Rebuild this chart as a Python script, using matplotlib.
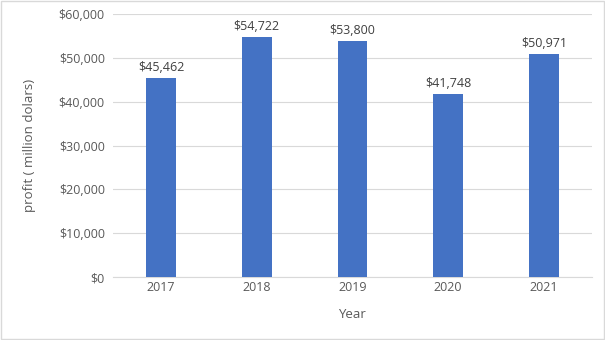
import matplotlib.pyplot as plt
from matplotlib.ticker import FuncFormatter

years = ['2017', '2018', '2019', '2020', '2021']
profit = [45462, 54722, 53800, 41748, 50971]

plt.rcParams['font.family'] = ['Open Sans', 'DejaVu Sans']
text_col = '#595959'

fig = plt.figure(figsize=(6.05, 3.4), dpi=100)
ax = fig.add_axes([0.187, 0.185, 0.791, 0.774])

x = range(len(years))
ax.bar(x, profit, width=0.31, color='#4472C4', zorder=3)

for xi, v in zip(x, profit):
    ax.text(xi, v + 900, f'${v:,}', ha='center', va='bottom', fontsize=9, color='#404040')

ax.set_xlim(-0.5, len(years) - 0.5)
ax.set_ylim(0, 60000)
ax.set_yticks(range(0, 60001, 10000))
ax.yaxis.set_major_formatter(FuncFormatter(lambda v, p: f'${int(v):,}'))
ax.set_xticks(list(x))
ax.set_xticklabels(years)
ax.grid(axis='y', color='#D9D9D9', linewidth=0.8, zorder=0)
ax.tick_params(axis='y', length=0, labelsize=9, colors=text_col, pad=6)
ax.tick_params(axis='x', length=0, labelsize=9, colors=text_col, pad=3)

for s in ['top', 'right', 'left']:
    ax.spines[s].set_visible(False)
ax.spines['bottom'].set_color('#D9D9D9')

ax.set_xlabel('Year', fontsize=9.5, color=text_col, labelpad=10)
ax.set_ylabel('profit ( million dolars)', fontsize=9.5, color=text_col, labelpad=16)

fig.patches.append(plt.Rectangle((0.001, 0.002), 0.997, 0.995, transform=fig.transFigure,
                                 fill=False, edgecolor='#D9D9D9', linewidth=1))

fig.savefig('out.png', dpi=100)
